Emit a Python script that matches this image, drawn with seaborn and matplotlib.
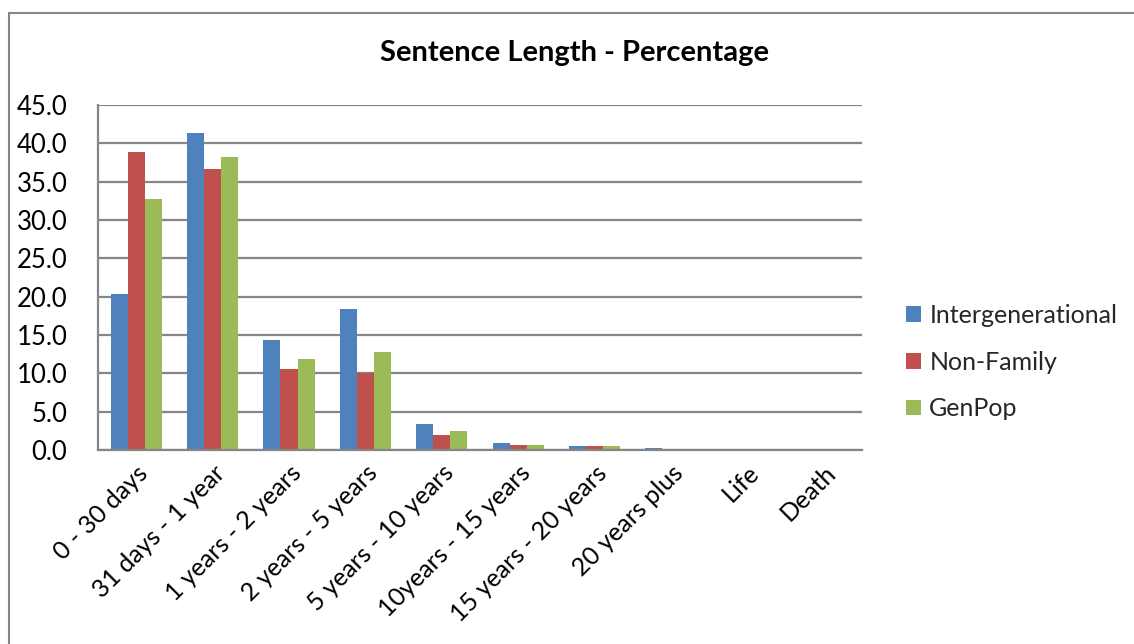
import matplotlib
matplotlib.use("Agg")
import matplotlib.pyplot as plt
import seaborn as sns
import pandas as pd
from matplotlib.patches import Rectangle

categories = ["0 - 30 days", "31 days - 1 year", "1 years - 2 years", "2 years - 5 years",
              "5 years - 10 years", "10years - 15 years", "15 years - 20 years",
              "20 years plus", "Life", "Death"]
intergenerational = [20.4, 41.3, 14.4, 18.4, 3.4, 0.85, 0.5, 0.2, 0.0, 0.0]
non_family = [38.9, 36.7, 10.6, 10.0, 2.0, 0.6, 0.55, 0.0, 0.0, 0.0]
genpop = [32.7, 38.2, 11.9, 12.8, 2.45, 0.7, 0.55, 0.05, 0.0, 0.0]
series_names = ["Intergenerational", "Non-Family", "GenPop"]
colors = ["#4F81BD", "#C0504D", "#9BBB59"]

df = pd.DataFrame({
    "category": categories * 3,
    "series": [s for s in series_names for _ in categories],
    "value": intergenerational + non_family + genpop,
})

sns.set_theme(style="white")
plt.rcParams["font.family"] = ["Lato", "DejaVu Sans"]

fig = plt.figure(figsize=(11.34, 6.44), dpi=100)
ax = fig.add_axes([98 / 1134, 1 - 450 / 644, (862 - 98) / 1134, (450 - 105) / 644])

sns.barplot(data=df, x="category", y="value", hue="series", hue_order=series_names,
            palette=colors, width=0.67, gap=0, saturation=1, ax=ax, legend=True,
            edgecolor="none")

ax.set_ylim(0, 45)
ax.set_yticks([i * 5 for i in range(10)])
ax.set_yticklabels([f"{i * 5:.1f}" for i in range(10)], fontsize=18.5, color="black")
ax.yaxis.grid(True, color="#868686", linewidth=1.6)
ax.set_axisbelow(True)
ax.set_xlabel("")
ax.set_ylabel("")
ax.set_xlim(-0.5, len(categories) - 0.5)
ax.set_xticks(range(len(categories)))
ax.set_xticklabels(categories, rotation=45, ha="right", rotation_mode="anchor",
                   fontsize=18, color="black")
ax.tick_params(axis="x", pad=8, length=0)
ax.tick_params(axis="y", pad=22, length=0)

for side in ["right", "top"]:
    ax.spines[side].set_visible(False)
for side in ["left", "bottom"]:
    ax.spines[side].set_color("#868686")
    ax.spines[side].set_linewidth(1.6)

fig.text(575 / 1134, 1 - 53 / 644, "Sentence Length - Percentage", ha="center", va="center",
         fontsize=21, fontweight="bold", color="black")

handles, labels = ax.get_legend_handles_labels()
ax.legend(handles, labels, loc="center left", bbox_to_anchor=(893 / 1134, 1 - 362 / 644),
          bbox_transform=fig.transFigure, frameon=False, fontsize=18,
          handlelength=0.6, handleheight=0.6, handletextpad=0.35, labelspacing=0.95,
          borderpad=0)

fig.patches.append(Rectangle((9 / 1134, -0.05), 1.1, 1 - 13 / 644 + 0.05,
                             transform=fig.transFigure, fill=False,
                             edgecolor="#868686", linewidth=1.5, figure=fig))

fig.savefig("out.png", dpi=100, facecolor="white")
